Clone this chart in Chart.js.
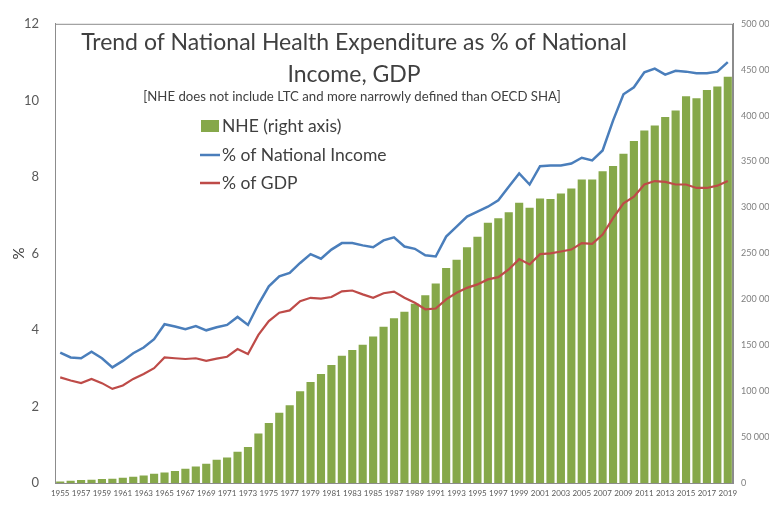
<!DOCTYPE html>
<html>
<head>
<meta charset="utf-8">
<script src="https://cdn.jsdelivr.net/npm/chart.js@4.4.1/dist/chart.umd.min.js"></script>
<style>
  html, body { margin: 0; padding: 0; background: #fff; }
  #wrap { width: 769px; height: 510px; position: relative; }
</style>
</head>
<body>
<div id="wrap"><canvas id="nheChart"></canvas></div>
<script>
// years 1955..2019
const years = []
for (let y = 1955; y <= 2019; y++) years.push(String(y))

// NHE, right axis
const nhe = [
  1500, 2500, 3200, 3500, 4300, 4700, 5700, 6800, 8300, 10000,
  11500, 13000, 15500, 18000, 21000, 25300, 27800, 34000, 39200, 53800,
  65200, 76600, 84700, 100000, 110000, 118700, 128400, 138500, 144700, 150400,
  159400, 170200, 179300, 186500, 195200, 204500, 217200, 234100, 243200, 256800,
  268000, 283500, 288200, 294700, 305200, 299800, 309900, 309200, 315300, 320700,
  330400, 330400, 339500, 345200, 358600, 372300, 383900, 389300, 398600, 405500,
  421000, 418800, 427800, 431800, 442300
]

// % of National Income
const pctNI = [
  3.41, 3.28, 3.26, 3.43, 3.26, 3.02, 3.19, 3.39, 3.54, 3.76,
  4.15, 4.09, 4.02, 4.10, 3.99, 4.07, 4.13, 4.34, 4.13, 4.67,
  5.14, 5.40, 5.49, 5.75, 5.98, 5.86, 6.10, 6.27, 6.27, 6.21,
  6.16, 6.34, 6.42, 6.18, 6.12, 5.95, 5.92, 6.44, 6.70, 6.96,
  7.09, 7.22, 7.39, 7.74, 8.09, 7.80, 8.28, 8.30, 8.30, 8.35,
  8.50, 8.43, 8.69, 9.47, 10.16, 10.34, 10.73, 10.83, 10.67, 10.77,
  10.75, 10.71, 10.71, 10.75, 11.00
]

// % of GDP
const pctGDP = [
  2.76, 2.68, 2.61, 2.72, 2.61, 2.46, 2.55, 2.72, 2.85, 3.00,
  3.28, 3.26, 3.24, 3.26, 3.19, 3.25, 3.30, 3.50, 3.37, 3.87,
  4.23, 4.45, 4.51, 4.75, 4.84, 4.82, 4.86, 5.01, 5.03, 4.93,
  4.84, 4.96, 5.00, 4.84, 4.71, 4.54, 4.56, 4.80, 4.97, 5.10,
  5.19, 5.32, 5.38, 5.58, 5.85, 5.71, 5.98, 6.00, 6.05, 6.10,
  6.27, 6.25, 6.49, 6.92, 7.31, 7.48, 7.80, 7.89, 7.87, 7.80,
  7.80, 7.71, 7.71, 7.77, 7.89
]

const titleLines = ["Trend of National Health Expenditure as % of National", "Income, GDP"]
const subTitle = "[NHE does not include LTC and more narrowly defined than OECD SHA]"

const FONT = "Lato, 'Open Sans', sans-serif"

// frame around the plot area
const frame = {
  id: "frame",
  afterDraw(chart) {
    const { ctx, chartArea: a } = chart
    ctx.save()
    ctx.strokeStyle = "#8c8c8c"
    ctx.lineWidth = 1
    ctx.strokeRect(a.left + 0.5, a.top + 0.5, a.right - a.left - 1, a.bottom - a.top)
    ctx.restore()
  }
}

// title + floating legend inside the plot
const overlay = {
  id: "overlay",
  afterDraw(chart) {
    const { ctx } = chart
    ctx.save()
    ctx.fillStyle = "#404040"
    ctx.textAlign = "center"
    ctx.textBaseline = "middle"
    ctx.font = "23px " + FONT
    ctx.fillText(titleLines[0], 354, 43)
    ctx.fillText(titleLines[1], 354, 75)
    ctx.font = "13.2px " + FONT
    ctx.fillText(subTitle, 352, 97)

    ctx.textAlign = "left"
    ctx.font = "17.5px " + FONT
    const ds = chart.data.datasets
    const rows = [126, 155, 183]
    ds.forEach((d, i) => {
      const y = rows[i]
      if (d.type === "bar") {
        ctx.fillStyle = d.backgroundColor
        ctx.fillRect(201, y - 6, 18, 12)
      } else {
        ctx.strokeStyle = d.borderColor
        ctx.lineWidth = 2.5
        ctx.beginPath()
        ctx.moveTo(200, y)
        ctx.lineTo(220, y)
        ctx.stroke()
      }
      ctx.fillStyle = "#404040"
      ctx.fillText(d.label, 222, y)
    })
    ctx.restore()
  }
}

new Chart(document.getElementById("nheChart"), {
  data: {
    labels: years,
    datasets: [
      {
        type: "bar",
        label: "NHE (right axis)",
        data: nhe,
        yAxisID: "y1",
        backgroundColor: "#86a84a",
        categoryPercentage: 1,
        barPercentage: 0.78,
        order: 3
      },
      {
        type: "line",
        label: "% of National Income",
        data: pctNI,
        yAxisID: "y",
        borderColor: "#4a7ebb",
        borderWidth: 2.5,
        pointRadius: 0,
        tension: 0,
        order: 1
      },
      {
        type: "line",
        label: "% of GDP",
        data: pctGDP,
        yAxisID: "y",
        borderColor: "#be4b48",
        borderWidth: 2.2,
        pointRadius: 0,
        tension: 0,
        order: 2
      }
    ]
  },
  options: {
    responsive: true,
    maintainAspectRatio: false,
    animation: false,
    layout: { padding: { top: 22, left: 0, right: 0, bottom: 0 } },
    plugins: {
      legend: { display: false },
      tooltip: { enabled: false }
    },
    scales: {
      x: {
        grid: { display: false, drawTicks: false },
        border: { color: "#8c8c8c" },
        ticks: {
          autoSkip: false,
          maxRotation: 0,
          minRotation: 0,
          padding: 6,
          color: "#595959",
          font: { family: FONT, size: 8 },
          callback: (v, i) => i % 2 === 0 ? years[i] : ""
        },
        afterFit: s => { s.height = 27 }
      },
      y: {
        position: "left",
        min: 0,
        max: 12,
        grid: { display: false, drawTicks: false },
        border: { color: "#8c8c8c" },
        title: { display: true, text: "%", color: "#404040", font: { family: FONT, size: 15 }, padding: { top: 10, bottom: 0 } },
        ticks: {
          stepSize: 2,
          padding: 16,
          color: "#595959",
          font: { family: FONT, size: 13 }
        },
        afterFit: s => { s.width = 55 }
      },
      y1: {
        position: "right",
        min: 0,
        max: 500000,
        grid: { display: false, drawTicks: false },
        border: { color: "#8c8c8c" },
        ticks: {
          stepSize: 50000,
          padding: 8,
          color: "#7f7f7f",
          font: { family: FONT, size: 9 },
          callback: v => v === 0 ? "0" : (v / 1000) + " 000"
        },
        afterFit: s => { s.width = 36 }
      }
    }
  },
  plugins: [frame, overlay]
})
</script>
</body>
</html>
